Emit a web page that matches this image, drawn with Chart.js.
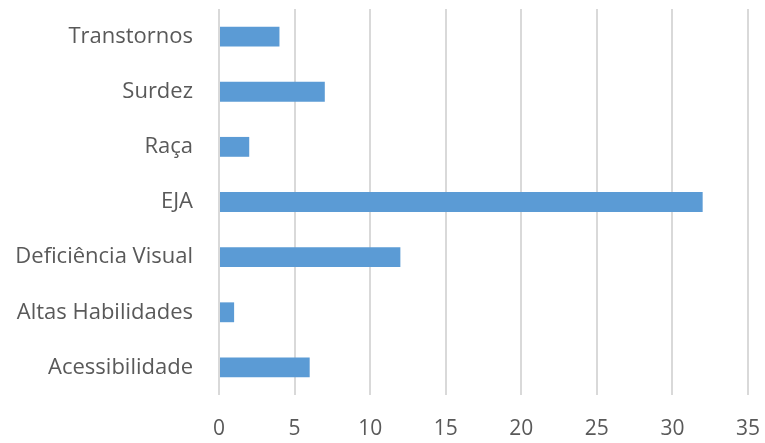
<!DOCTYPE html>
<html><head><meta charset="utf-8">
<script src="https://cdn.jsdelivr.net/npm/chart.js@4"></script>
<style>html,body{margin:0;padding:0;background:#fff}#w{width:765px;height:443px}</style>
</head><body><div id="w"><canvas id="c"></canvas></div>
<script>
const categories = ["Transtornos","Surdez","Raça","EJA","Deficiência Visual","Altas Habilidades","Acessibilidade"];
const values = [4,7,2,32,12,1,6];
const xTicks = [0,5,10,15,20,25,30,35];

new Chart(document.getElementById('c'), {
  type: 'bar',
  data: { labels: categories, datasets: [{ data: values, backgroundColor: '#5B9BD5', borderWidth: 0, barPercentage: 0.36, categoryPercentage: 1 }] },
  options: {
    indexAxis: 'y', responsive: true, maintainAspectRatio: false, animation: false,
    layout: { padding: { top: 9, right: 17, left: 0, bottom: 0 } },
    plugins: { legend: { display: false }, tooltip: { enabled: false } },
    scales: {
      x: {
        min: xTicks[0], max: xTicks[xTicks.length-1],
        afterBuildTicks: s => { s.ticks = xTicks.map(v => ({ value: v })); },
        grid: { color: '#D9D9D9', lineWidth: 2, drawTicks: false },
        border: { display: false },
        ticks: { color: '#595959', font: { family: 'Open Sans', size: 21 }, padding: 21, maxRotation: 0 },
        afterFit: s => { s.height = 48; s.paddingLeft = 0; s.paddingRight = 0; }
      },
      y: {
        grid: { display: false, drawTicks: false },
        border: { display: false },
        ticks: { color: '#595959', font: { family: 'Open Sans', size: 22 }, padding: 26 },
        afterFit: s => { s.width = 219; s.paddingTop = 0; s.paddingBottom = 0; }
      }
    }
  }
});
</script></body></html>
